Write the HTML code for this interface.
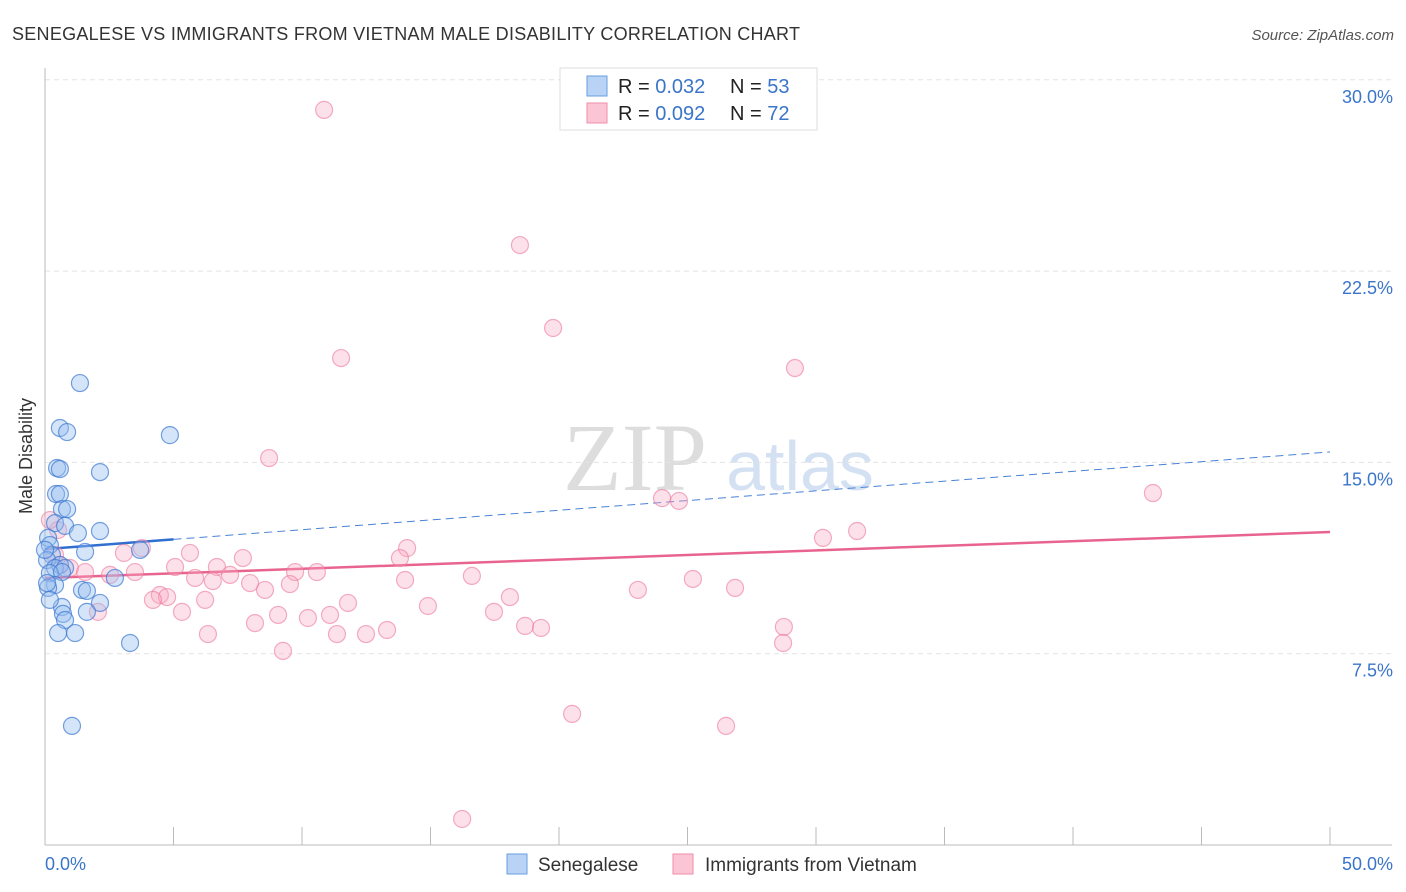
<!DOCTYPE html>
<html><head><meta charset="utf-8"><style>
body{margin:0;background:#fff;font-family:"Liberation Sans",sans-serif;}
#wrap{position:relative;width:1406px;height:892px;overflow:hidden;}
</style></head><body>
<div id="wrap">
<svg id="chart" width="1406" height="892" xmlns="http://www.w3.org/2000/svg">
<text x="12" y="40" font-size="18" fill="#333" textLength="788">SENEGALESE VS IMMIGRANTS FROM VIETNAM MALE DISABILITY CORRELATION CHART</text>
<text x="1394" y="40" font-size="15" fill="#555" font-style="italic" text-anchor="end">Source: ZipAtlas.com</text>
<text x="32" y="456" font-size="18" fill="#333" text-anchor="middle" transform="rotate(-90 32 456)">Male Disability</text>
<text x="635" y="490" font-size="96" fill="#ddd" font-family="Liberation Serif,serif" text-anchor="middle">ZIP</text>
<text x="800" y="490" font-size="70" fill="#d4e1f3" text-anchor="middle">atlas</text>
<g id="grid"></g><g id="axes"></g><g id="trend"></g><g id="pts"></g>
<g>
<rect x="560" y="68" width="257" height="62" fill="#fff" stroke="#ddd"/>
<rect x="587" y="76" width="20" height="20" fill="#b8d3f5" stroke="#6a9de0"/>
<rect x="587" y="103" width="20" height="20" fill="#fbc5d5" stroke="#ee8eab"/>
<text x="618" y="93" font-size="20" fill="#222">R = <tspan fill="#3a75c9">0.032</tspan></text>
<text x="730" y="93" font-size="20" fill="#222">N = <tspan fill="#3a75c9">53</tspan></text>
<text x="618" y="120" font-size="20" fill="#222">R = <tspan fill="#3a75c9">0.092</tspan></text>
<text x="730" y="120" font-size="20" fill="#222">N = <tspan fill="#3a75c9">72</tspan></text>
</g>
<g>
<rect x="507" y="854" width="20" height="20" fill="#b8d3f5" stroke="#6a9de0"/>
<text x="538" y="871" font-size="19" fill="#333">Senegalese</text>
<rect x="673" y="854" width="20" height="20" fill="#fbc5d5" stroke="#ee8eab"/>
<text x="705" y="871" font-size="19" fill="#333">Immigrants from Vietnam</text>
</g>
</svg>
</div>
<script>
const blueX=[1.36,0.58,0.86,4.86,0.47,0.58,2.14,0.43,0.58,0.66,0.86,0.39,0.78,1.28,2.14,0.12,0.19,3.70,1.56,0.27,0.08,0.58,0.39,0.78,0.19,0.66,2.72,0.39,0.12,1.44,1.63,2.14,0.66,0.70,1.63,0.78,0.51,1.17,3.31,1.05,0,0.08,0.19];
const blueY=[18.11,16.35,16.19,16.07,14.78,14.74,14.62,13.76,13.76,13.17,13.17,12.62,12.51,12.23,12.31,12.04,11.76,11.57,11.49,11.37,11.17,10.98,10.86,10.86,10.66,10.70,10.47,10.19,10.08,10.00,9.96,9.49,9.33,9.06,9.14,8.82,8.31,8.31,7.92,4.67,11.57,10.27,9.61];
const pinkX=[10.86,18.48,19.77,11.52,29.18,8.72,43.11,24.01,24.67,31.60,30.27,3.77,5.64,14.09,13.81,3.07,7.70,0.51,0.19,0.39,0.58,0.97,1.56,2.53,3.50,5.06,6.69,7.20,9.73,10.58,16.61,25.21,14.01,5.84,6.53,7.98,9.53,26.85,23.07,8.56,4.47,4.75,4.20,6.23,18.09,11.79,14.90,5.33,2.06,17.47,9.07,11.09,10.23,8.17,18.68,19.30,28.75,13.31,11.36,12.49,6.34,28.72,9.26,20.51,26.50,16.23];
const pinkY=[28.82,23.52,20.27,19.09,18.70,15.17,13.80,13.60,13.49,12.31,12.04,11.64,11.45,11.64,11.25,11.45,11.25,12.35,12.74,11.37,10.98,10.86,10.70,10.59,10.70,10.90,10.90,10.59,10.70,10.70,10.55,10.43,10.39,10.47,10.35,10.27,10.23,10.08,10.00,10.00,9.80,9.72,9.61,9.61,9.72,9.49,9.37,9.14,9.14,9.14,9.02,9.02,8.90,8.70,8.59,8.51,8.55,8.43,8.27,8.27,8.27,7.92,7.61,5.14,4.67,1.02];
const yTicks=[7.5,15,22.5,30];
const yTickLabels=["7.5%","15.0%","22.5%","30.0%"];
const blueTrend=[11.6,15.41];
const pinkTrend=[10.47,12.27];
const blueSolidEnd=5;
const NS="http://www.w3.org/2000/svg";
const X=v=>45+v/50*1285, Y=v=>845-v/7.5*191.3;
function mk(tag,attrs,parent){const e=document.createElementNS(NS,tag);for(const k in attrs)e.setAttribute(k,attrs[k]);document.getElementById(parent).appendChild(e);return e;}
yTicks.forEach((t,i)=>{
  const l=mk('line',{x1:45,x2:1392,y1:Y(t),y2:Y(t),stroke:'#e3e3e3','stroke-dasharray':'5,4'},'grid');
  
  
  const tx=mk('text',{x:1393,y:Y(t)+23,'font-size':18,fill:'#3a75c9','text-anchor':'end'},'grid');
  tx.textContent=yTickLabels[i];
  
  
});
let a=mk('line',{x1:45,x2:45,y1:68,y2:845,stroke:'#bbb'},'axes');


a=mk('line',{x1:45,x2:1392,y1:845,y2:845,stroke:'#bbb'},'axes');


for(let i=1;i<=10;i++){const t=mk('line',{x1:X(i*5),x2:X(i*5),y1:827,y2:845,stroke:'#bbb'},'axes');
  
  }
let xt=mk('text',{x:45,y:870,'font-size':18,fill:'#3a75c9'},'axes');xt.textContent='0.0%';


xt=mk('text',{x:1393,y:870,'font-size':18,fill:'#3a75c9','text-anchor':'end'},'axes');xt.textContent='50.0%';


const by=x=>blueTrend[0]+(blueTrend[1]-blueTrend[0])*x/50;
let tl=mk('line',{x1:X(0),y1:Y(by(0)),x2:X(blueSolidEnd),y2:Y(by(blueSolidEnd)),stroke:'#2f6fd0','stroke-width':2.5},'trend');


tl=mk('line',{x1:X(blueSolidEnd),y1:Y(by(blueSolidEnd)),x2:X(50),y2:Y(by(50)),stroke:'#4a82d6','stroke-width':1,'stroke-dasharray':'8,5'},'trend');


tl=mk('line',{x1:X(0),y1:Y(pinkTrend[0]),x2:X(50),y2:Y(pinkTrend[1]),stroke:'#e8648f','stroke-width':2.5},'trend');


pinkX.forEach((x,i)=>{const c=mk('circle',{cx:X(x),cy:Y(pinkY[i]),r:8.5,fill:'rgba(248,170,195,0.35)',stroke:'rgba(235,120,155,0.6)','stroke-width':1.2},'pts');
  
  });
blueX.forEach((x,i)=>{const c=mk('circle',{cx:X(x),cy:Y(blueY[i]),r:8.5,fill:'rgba(150,190,240,0.4)',stroke:'rgba(60,120,210,0.7)','stroke-width':1.2},'pts');
  
  });
</script>
</body></html>
